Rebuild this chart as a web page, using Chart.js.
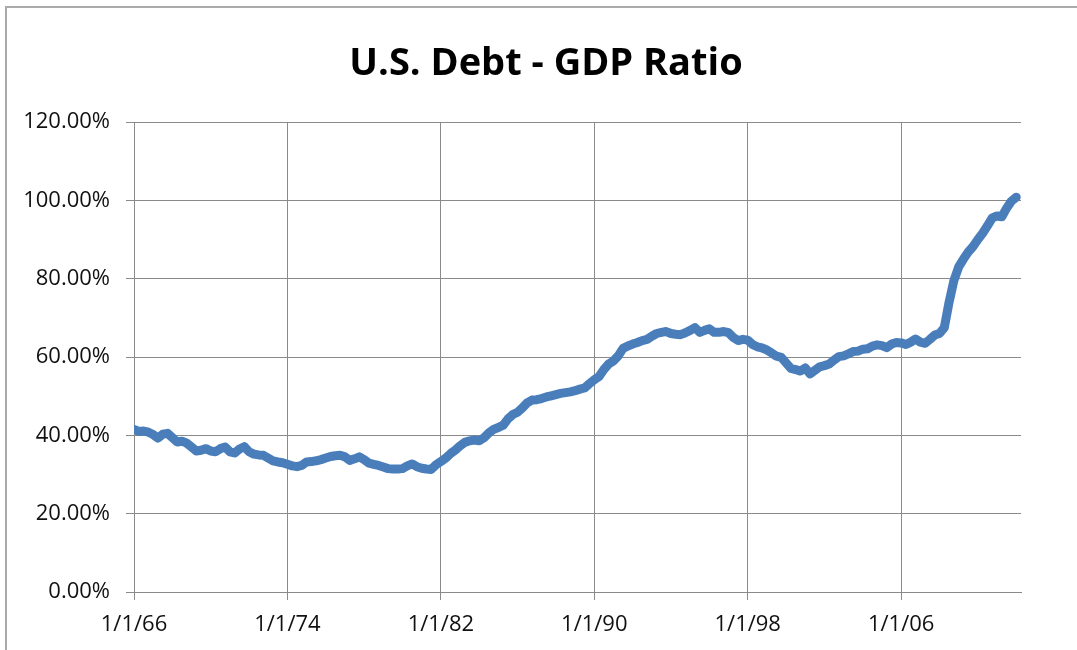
<!DOCTYPE html>
<html>
<head>
<meta charset="utf-8">
<title>U.S. Debt - GDP Ratio</title>
<script src="https://cdn.jsdelivr.net/npm/chart.js@4.4.1/dist/chart.umd.min.js"></script>
<style>
  html, body { margin: 0; padding: 0; background: #fff; overflow: hidden; }
  #wrap { position: relative; width: 1077px; height: 650px; }
  #frame {
    position: absolute; left: 5px; top: 6px; width: 1200px; height: 800px;
    border-left: 2px solid #aaa; border-top: 2px solid #aaa;
    pointer-events: none;
  }
</style>
</head>
<body>
<div id="wrap">
  <canvas id="debtChart" width="1077" height="650"></canvas>
  <div id="frame"></div>
</div>
<script>
// quarterly debt / GDP ratio in percent, starting Q1 1966
const ratio = [
  41.5, 41.0, 41.1, 40.8, 40.2, 39.3, 40.3, 40.5, 39.4, 38.3,
  38.5, 38.0, 37.0, 36.0, 36.2, 36.6, 36.0, 35.8, 36.6, 37.0,
  35.8, 35.5, 36.5, 37.1, 35.8, 35.2, 35.0, 34.9, 34.2, 33.5,
  33.2, 33.0, 32.6, 32.2, 32.0, 32.3, 33.2, 33.3, 33.5, 33.8,
  34.2, 34.6, 34.8, 34.9, 34.5, 33.6, 34.0, 34.5, 33.8, 32.9,
  32.6, 32.3, 31.9, 31.5, 31.4, 31.4, 31.5, 32.2, 32.7, 32.0,
  31.6, 31.4, 31.3, 32.5, 33.3, 34.2, 35.3, 36.2, 37.3, 38.2,
  38.6, 38.8, 38.6, 39.4, 40.6, 41.5, 42.0, 42.6, 44.2, 45.3,
  45.9, 47.0, 48.3, 49.0, 49.1, 49.4, 49.8, 50.1, 50.4, 50.7,
  50.9, 51.1, 51.4, 51.8, 52.1, 53.2, 54.2, 55.0, 56.8, 58.2,
  59.0, 60.3, 62.2, 62.8, 63.3, 63.7, 64.2, 64.5, 65.3, 66.0,
  66.3, 66.5, 66.0, 65.8, 65.7, 66.2, 66.8, 67.5, 66.3, 66.8,
  67.2, 66.3, 66.3, 66.5, 66.2, 65.0, 64.2, 64.5, 64.3, 63.2,
  62.6, 62.3, 61.8, 61.0, 60.2, 59.9, 58.5, 57.1, 56.8, 56.4,
  57.2, 55.7, 56.6, 57.5, 57.8, 58.2, 59.2, 60.1, 60.3, 60.8,
  61.4, 61.5, 62.0, 62.1, 62.8, 63.1, 62.9, 62.4, 63.3, 63.7,
  63.6, 63.2, 63.8, 64.6, 63.8, 63.5, 64.5, 65.6, 66.0, 67.5,
  74.0, 79.5, 83.0, 85.0, 86.8, 88.2, 90.0, 91.6, 93.5, 95.5,
  96.0, 95.8, 98.0, 99.8, 100.8
];

// one label every 8 years (32 quarters)
const xTickLabels = ["1/1/66", "1/1/74", "1/1/82", "1/1/90", "1/1/98", "1/1/06"];
const quartersPerLabel = 32;
const lastQuarter = 185;

const yTicks = [0, 20, 40, 60, 80, 100, 120];

const chartTitle = "U.S. Debt - GDP Ratio";

const gridColor = "#8a8a8a";
const textColor = "#111";
const tickFont = { family: "'Open Sans', sans-serif", size: 22 };

const points = ratio.map((v, i) => ({ x: i, y: v }));

// title sits a bit right of the canvas centre, so draw it by hand
const titlePlugin = {
  id: "sheetTitle",
  afterDraw(chart) {
    const ctx = chart.ctx;
    ctx.save();
    ctx.font = "bold 38px 'Open Sans', sans-serif";
    ctx.fillStyle = "#000";
    ctx.textAlign = "center";
    ctx.textBaseline = "alphabetic";
    ctx.fillText(chartTitle, 546, 75);
    ctx.restore();
  }
};

new Chart(document.getElementById("debtChart"), {
  type: "line",
  data: {
    datasets: [{
      label: "Debt / GDP",
      data: points,
      borderColor: "#4a7ebb",
      borderWidth: 9,
      borderCapStyle: "round",
      borderJoinStyle: "round",
      pointRadius: 0,
      tension: 0,
      fill: false
    }]
  },
  plugins: [titlePlugin],
  options: {
    responsive: false,
    animation: false,
    events: [],
    layout: { padding: { left: 10, right: 56, top: 122, bottom: 0 } },
    plugins: {
      legend: { display: false },
      tooltip: { enabled: false },
      title: { display: false }
    },
    scales: {
      x: {
        type: "linear",
        min: 0,
        max: lastQuarter,
        grid: { color: gridColor, lineWidth: 1, tickLength: 8 },
        border: { color: gridColor, width: 1 },
        ticks: {
          stepSize: quartersPerLabel,
          includeBounds: false,
          autoSkip: false,
          maxRotation: 0,
          color: textColor,
          font: tickFont,
          padding: 12,
          callback: v => xTickLabels[v / quartersPerLabel] || ""
        },
        afterFit: s => { s.height = 58; }
      },
      y: {
        min: yTicks[0],
        max: yTicks[yTicks.length - 1],
        grid: { color: gridColor, lineWidth: 1, tickLength: 8 },
        border: { color: gridColor, width: 1 },
        ticks: {
          stepSize: 20,
          color: textColor,
          font: tickFont,
          padding: 16,
          callback: v => v.toFixed(2) + "%"
        },
        afterFit: s => { s.width = 124; }
      }
    }
  }
});
</script>
</body>
</html>
